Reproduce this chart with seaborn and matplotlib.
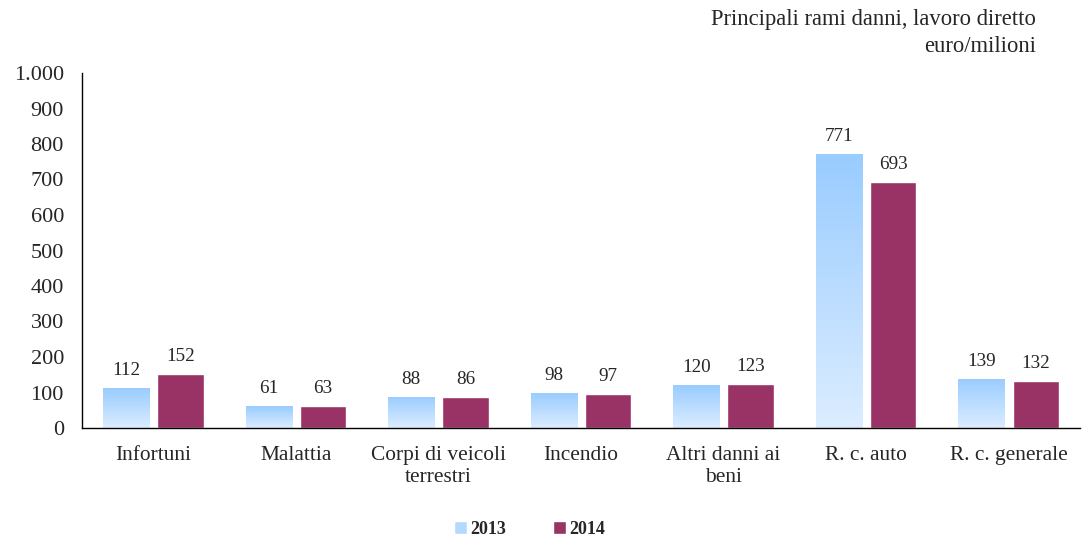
import numpy as np
import pandas as pd
import seaborn as sns
import matplotlib.pyplot as plt
from matplotlib.patches import Patch
from matplotlib.colors import LinearSegmentedColormap
from matplotlib.ticker import FuncFormatter, FixedLocator

# dati: principali rami danni, lavoro diretto (euro/milioni)
rami = ['Infortuni', 'Malattia', 'Corpi di veicoli\nterrestri', 'Incendio',
        'Altri danni ai\nbeni', 'R. c. auto', 'R. c. generale']
valori_2013 = [112, 61, 88, 98, 120, 771, 139]
valori_2014 = [152, 63, 86, 97, 123, 693, 132]
anni = ['2013', '2014']

df = pd.DataFrame({
    'ramo': rami * 2,
    'valore': valori_2013 + valori_2014,
    'anno': ['2013'] * len(rami) + ['2014'] * len(rami),
})

sns.set_style('white')
plt.rcParams['font.family'] = ['Liberation Serif', 'DejaVu Serif']

fig = plt.figure(figsize=(10.88, 5.37), dpi=100)
ax = fig.add_axes([82 / 1088, 109 / 537, 998 / 1088, 355 / 537])

sns.barplot(data=df, x='ramo', y='valore', hue='anno', order=rami, hue_order=anni,
            palette={'2013': '#99CCFF', '2014': '#993366'}, saturation=1,
            width=0.76, gap=0.145, ax=ax, legend=False, errorbar=None)

# sfumatura verticale sulle barre 2013
cmap = LinearSegmentedColormap.from_list('blu', ['#DCEDFF', '#99CCFF'])
grad = np.linspace(0, 1, 256).reshape(-1, 1)
for p in ax.containers[0]:
    x0, y0 = p.get_x(), p.get_y()
    w, h = p.get_width(), p.get_height()
    im = ax.imshow(grad, cmap=cmap, origin='lower', aspect='auto',
                   extent=[x0, x0 + w, y0, y0 + h], zorder=p.get_zorder() + 0.1)
    im.set_clip_path(p)

for c in ax.containers:
    ax.bar_label(c, fmt='%d', padding=6.5, fontsize=13.8)

ax.set_xlim(-0.5, len(rami) - 0.5)
ax.set_ylim(0, 1000)
ax.set_yticks(range(0, 1001, 100))
ax.yaxis.set_major_formatter(FuncFormatter(lambda v, _: f'{v:,.0f}'.replace(',', '.')))
ax.xaxis.set_minor_locator(FixedLocator(np.arange(-0.5, len(rami), 1)))
ax.tick_params(axis='x', which='major', length=0, pad=13, labelsize=15.4)
ax.tick_params(axis='x', which='minor', length=6, width=1, direction='out', color='black')
ax.tick_params(axis='y', length=5, width=1, direction='out', color='black', labelsize=16, pad=8)
ax.set_xlabel('')
ax.set_ylabel('')
for lab in ax.get_xticklabels():
    lab.set_multialignment('center')

sns.despine(ax=ax)
for s in ['left', 'bottom']:
    ax.spines[s].set_color('black')
    ax.spines[s].set_linewidth(1)

fig.text(1036 / 1088, 1 - 19 / 537, 'Principali rami danni, lavoro diretto',
         ha='right', va='center', fontsize=16.3)
fig.text(1036 / 1088, 1 - 46 / 537, 'euro/milioni', ha='right', va='center', fontsize=16.3)

handles = [Patch(facecolor='#B3D9FF'), Patch(facecolor='#993366')]
fig.legend(handles, anni, loc='center', bbox_to_anchor=(0.487, 0.014), ncol=2,
           frameon=False, handlelength=0.7, handleheight=0.7, handletextpad=0.2,
           columnspacing=2.6, prop={'weight': 'bold', 'size': 13})

fig.savefig('out.png', dpi=100)
